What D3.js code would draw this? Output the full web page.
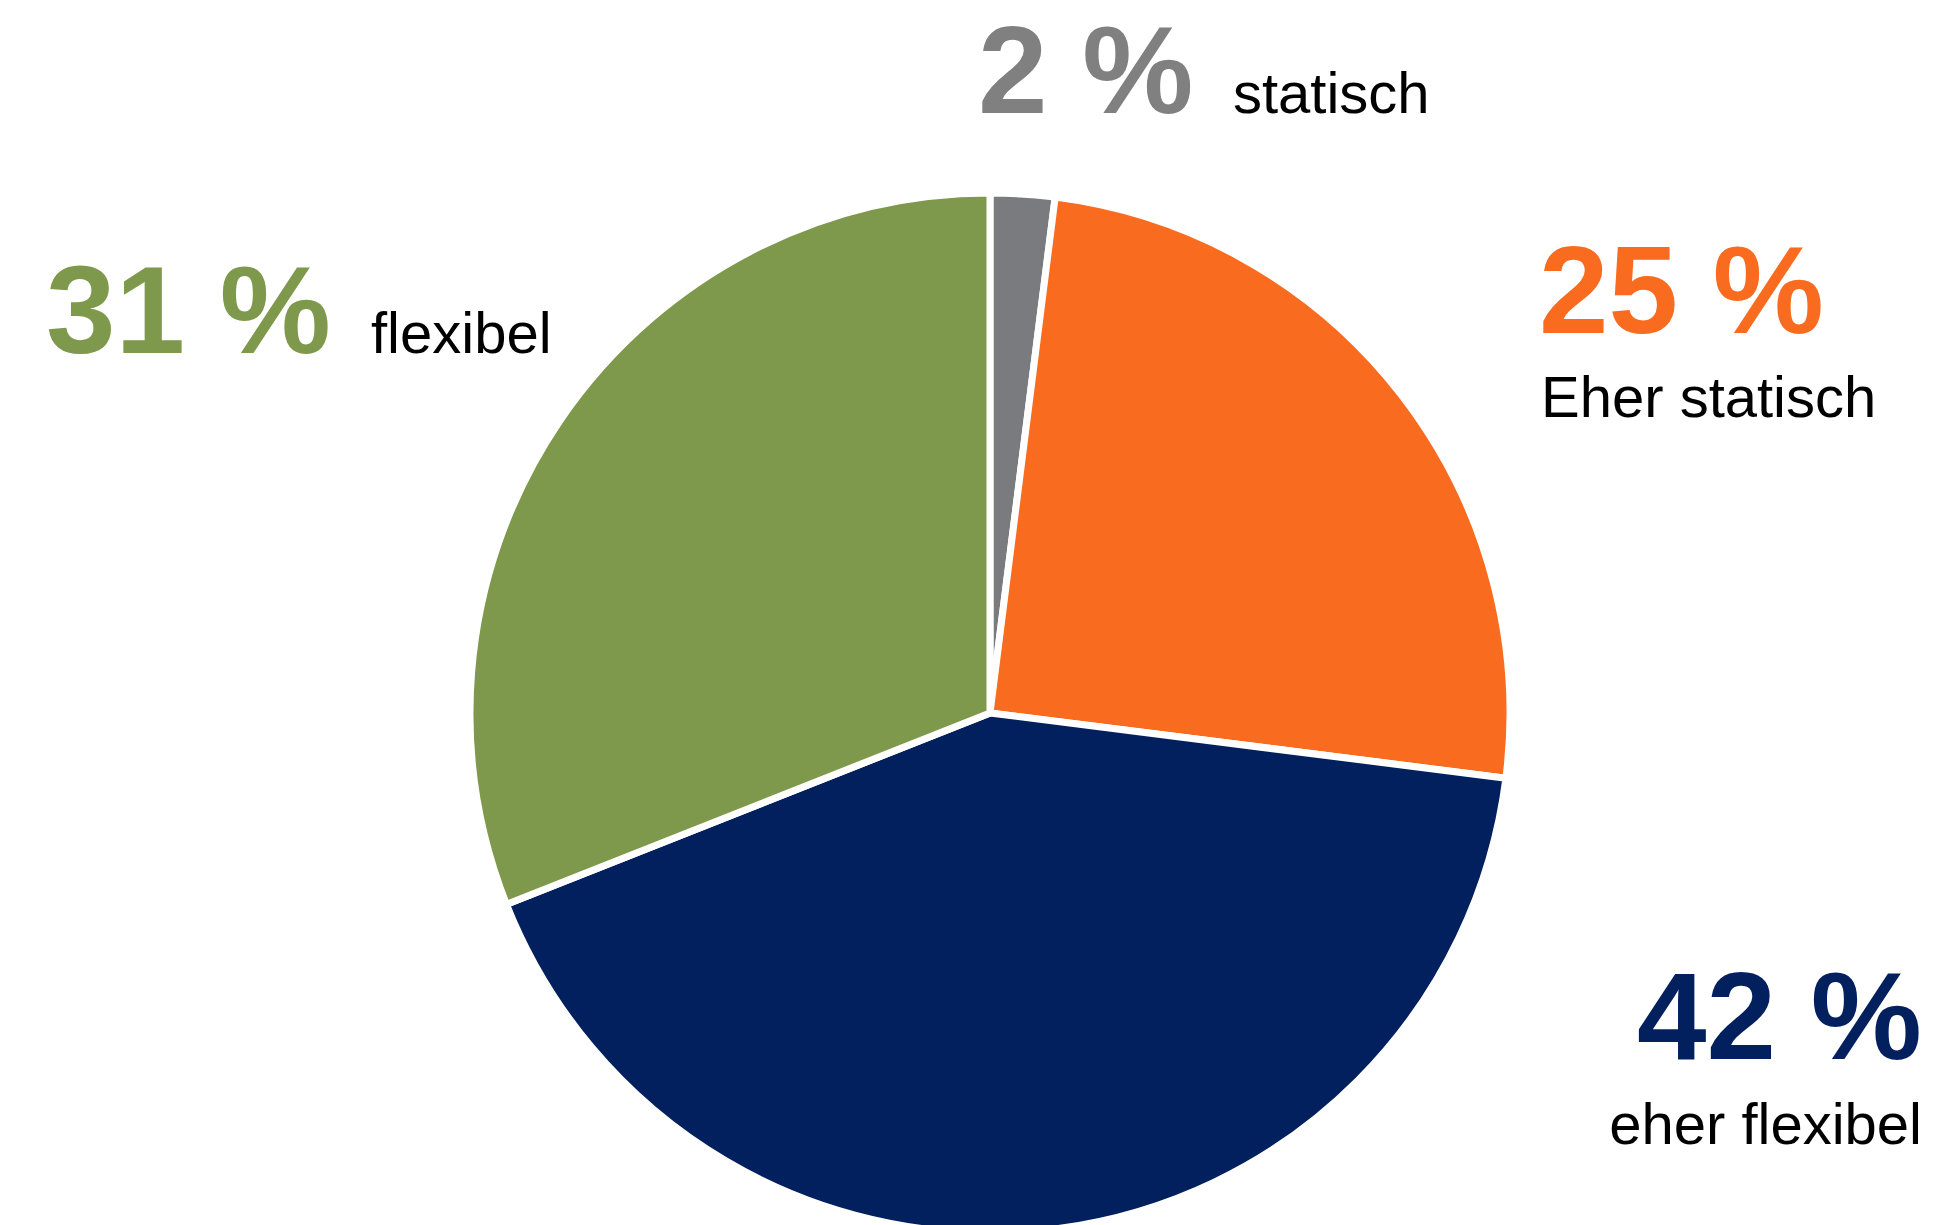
<!DOCTYPE html>
<html>
<head>
<meta charset="utf-8">
<script src="https://cdn.jsdelivr.net/npm/d3@7"></script>
<style>
  html, body { margin: 0; padding: 0; background: #fff; overflow: hidden; }
  text { font-family: "Liberation Sans", Arial, sans-serif; }
</style>
</head>
<body>
<div id="chart"></div>
<script>
// data
var categories = ["statisch", "Eher statisch", "eher flexibel", "flexibel"];
var values = [2, 25, 42, 31];
var colors = ["#7a7b7f", "#f96b1e", "#021f5e", "#7e984c"];
var labelColors = ["#808080", "#f96b1e", "#021f5e", "#7e984c"];

var width = 1935, height = 1225;
var cx = 990, cy = 713, radius = 520;

var svg = d3.select("#chart")
    .append("svg")
    .attr("width", width)
    .attr("height", height);

var pie = d3.pie()
    .sort(null)
    .value(function (d) { return d; });

var arc = d3.arc()
    .innerRadius(0)
    .outerRadius(radius);

var slices = pie(values);

var g = svg.append("g")
    .attr("transform", "translate(" + cx + "," + cy + ")");

g.selectAll("path")
    .data(slices)
    .enter()
    .append("path")
    .attr("d", arc)
    .attr("fill", function (d, i) { return colors[i]; })
    .attr("stroke", "#fff")
    .attr("stroke-width", 7)
    .attr("stroke-linejoin", "miter");

// label placement (number line, then name), per slice
var labelPos = [
    {x: 978, y: 113, anchor: "start", inline: true, nameX: 1233},
    {x: 1539, y: 333, anchor: "start", inline: false, nameX: 1541, nameY: 417},
    {x: 1922, y: 1059, anchor: "end", inline: false, nameX: 1922, nameY: 1144},
    {x: 46, y: 353, anchor: "start", inline: true, nameX: 371}
];

var labels = svg.selectAll("g.lbl")
    .data(slices)
    .enter()
    .append("g")
    .attr("class", "lbl");

labels.append("text")
    .attr("x", function (d, i) { return labelPos[i].x; })
    .attr("y", function (d, i) { return labelPos[i].y; })
    .attr("text-anchor", function (d, i) { return labelPos[i].anchor; })
    .attr("font-size", 125)
    .attr("font-weight", "bold")
    .attr("fill", function (d, i) { return labelColors[i]; })
    .text(function (d) { return d.data + " %"; });

labels.append("text")
    .attr("x", function (d, i) { return labelPos[i].nameX; })
    .attr("y", function (d, i) { return labelPos[i].inline ? labelPos[i].y : labelPos[i].nameY; })
    .attr("text-anchor", function (d, i) { return labelPos[i].anchor; })
    .attr("font-size", 58)
    .attr("fill", "#000")
    .text(function (d, i) { return categories[i]; });
</script>
</body>
</html>
